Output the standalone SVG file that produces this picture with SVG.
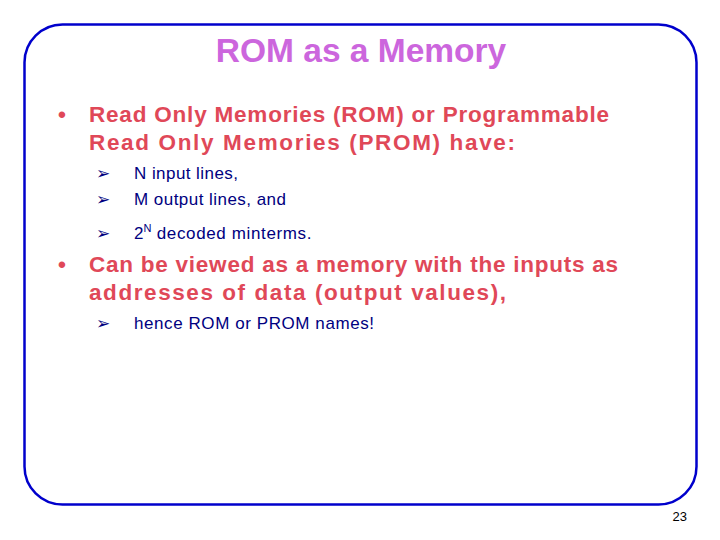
<svg xmlns="http://www.w3.org/2000/svg" width="720" height="540" viewBox="0 0 720 540">
<style>
.t{font-family:"Liberation Sans",Arial,sans-serif}
.r{font-size:22.5px;fill:#E04858;font-weight:bold}
.s{font-size:17px;fill:#000080}
.a{font-family:"DejaVu Sans",sans-serif;font-size:17px;fill:#000080}
</style>
<rect width="720" height="540" fill="#fff"/>
<rect x="24.5" y="24.5" width="672" height="480" rx="38" ry="38" fill="none" stroke="#0000CC" stroke-width="2.5"/>
<text class="t" x="361" y="62" text-anchor="middle" font-size="33.5" font-weight="bold" fill="#CC66DD">ROM as a Memory</text>
<g class="t">
<text class="r" x="58" y="122">•</text>
<text class="r" x="89" y="122" textLength="520">Read Only Memories (ROM) or Programmable</text>
<text class="r" x="89" y="150" textLength="426">Read Only Memories (PROM) have:</text>
<text class="a" x="96" y="179">➢</text><text class="s" x="134" y="179" textLength="104">N input lines,</text>
<text class="a" x="96" y="205">➢</text><text class="s" x="134" y="205" textLength="152">M output lines, and</text>
<text class="a" x="96" y="239">➢</text><text class="s" x="134" y="239">2<tspan font-size="11" dy="-7">N</tspan><tspan dy="7" textLength="160"> decoded minterms.</tspan></text>
<text class="r" x="58" y="272">•</text>
<text class="r" x="89" y="272" textLength="529">Can be viewed as a memory with the inputs as</text>
<text class="r" x="89" y="300" textLength="417">addresses of data (output values),</text>
<text class="a" x="96" y="329">➢</text><text class="s" x="134" y="329" textLength="240">hence ROM or PROM names!</text>
<text x="687" y="521" text-anchor="end" font-size="13" fill="#000">23</text>
</g>
</svg>
